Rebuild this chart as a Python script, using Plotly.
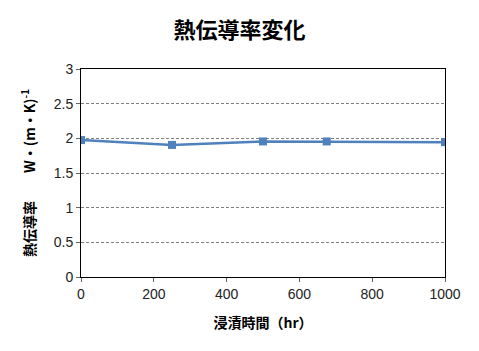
import plotly.graph_objects as go

hours = [0, 250, 500, 675, 1000]
conductivity = [1.975, 1.905, 1.955, 1.955, 1.945]
y_ticks = [0, 0.5, 1, 1.5, 2, 2.5, 3]
y_tick_labels = ["0", "0.5", "1", "1.5", "2", "2.5", "3"]
x_ticks = [0, 200, 400, 600, 800, 1000]

fig = go.Figure()
fig.add_trace(go.Scatter(
    x=hours, y=conductivity, mode="lines+markers",
    line=dict(color="#4f81bd", width=2.5),
    marker=dict(symbol="square", size=8, color="#4f81bd"),
    showlegend=False,
))

font_jp = "Noto Sans CJK JP"
fig.update_layout(
    width=479, height=351,
    margin=dict(l=81, r=34, t=69, b=74),
    paper_bgcolor="white", plot_bgcolor="white",
    title=dict(text="<b>熱伝導率変化</b>", x=0.5, xanchor="center", y=0.915, yanchor="middle",
               font=dict(family=font_jp, size=22, color="black")),
    font=dict(family="Liberation Sans, Arial", size=14, color="#222"),
)
fig.update_xaxes(
    range=[0, 1000], tickvals=x_ticks, ticks="outside", ticklen=4, tickcolor="#666",
    showgrid=False, zeroline=False, showline=True, linecolor="black", linewidth=1, mirror=True,
    title=dict(text="<b>浸漬時間（hr）</b>", font=dict(family=font_jp, size=14, color="black"), standoff=17),
    tickfont=dict(size=14, color="#222"),
)
fig.update_yaxes(
    range=[0, 3], tickvals=y_ticks, ticktext=y_tick_labels, ticks="outside", ticklen=4, tickcolor="#666",
    showgrid=True, gridcolor="#808080", griddash="3px,2px", gridwidth=1,
    zeroline=False, showline=True, linecolor="black", linewidth=1, mirror=True,
    title=dict(text="<b>熱伝導率　　W・(m・K)<sup>-1</sup></b>", font=dict(family=font_jp, size=14, color="black"), standoff=14),
    tickfont=dict(size=14, color="#222"),
)
fig.write_html("out.html")
